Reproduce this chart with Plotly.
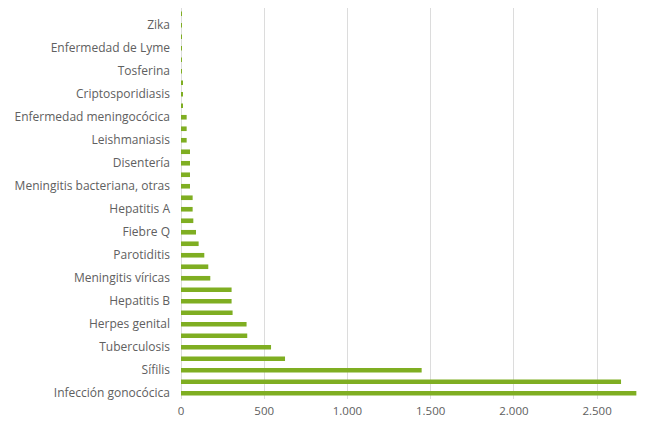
import plotly.graph_objects as go

# Category labels (shown on every other bar, bottom to top)
labels = [
    "Infección gonocócica", "Sífilis", "Tuberculosis", "Herpes genital",
    "Hepatitis B", "Meningitis víricas", "Parotiditis", "Fiebre Q",
    "Hepatitis A", "Meningitis bacteriana, otras", "Disentería",
    "Leishmaniasis", "Enfermedad meningocócica", "Criptosporidiasis",
    "Tosferina", "Enfermedad de Lyme", "Zika",
]

# Bar values, bottom (index 0) to top (index 33)
values = [
    2736, 2644, 1446, 625, 541, 398, 394, 310, 304, 304,
    176, 164, 140, 106, 90, 74, 70, 70, 54, 54,
    54, 54, 34, 34, 34, 10, 10, 8, 6, 5,
    4, 2, 2, 5,
]

positions = list(range(len(values)))
label_positions = positions[::2]

x_ticks = [0, 500, 1000, 1500, 2000, 2500]

fig = go.Figure(
    go.Bar(
        x=values,
        y=positions,
        orientation="h",
        marker=dict(color="#7fae22", line=dict(width=0)),
        hoverinfo="x",
    )
)

font_family = "Open Sans"
text_color = "#606060"

fig.update_layout(
    width=651,
    height=425,
    margin=dict(l=181, r=4, t=8, b=26),
    paper_bgcolor="white",
    plot_bgcolor="white",
    bargap=0.6,
    separators=",.",
    showlegend=False,
    font=dict(family=font_family, size=12, color=text_color),
    xaxis=dict(
        range=[0, 2800],
        tickvals=x_ticks,
        tickformat=",d",
        showgrid=True,
        gridcolor="#dcdcdc",
        gridwidth=1,
        zeroline=True,
        zerolinecolor="#dcdcdc",
        zerolinewidth=1,
        showline=False,
        ticks="",
        ticklabelstandoff=3,
        tickfont=dict(family=font_family, size=11.5, color=text_color),
    ),
    yaxis=dict(
        range=[-0.5, len(values) - 0.5],
        tickvals=label_positions,
        ticktext=labels,
        showgrid=False,
        zeroline=False,
        showline=False,
        ticks="",
        ticklabelstandoff=10,
        tickfont=dict(family=font_family, size=12, color=text_color),
    ),
)

fig.write_html("out.html")
